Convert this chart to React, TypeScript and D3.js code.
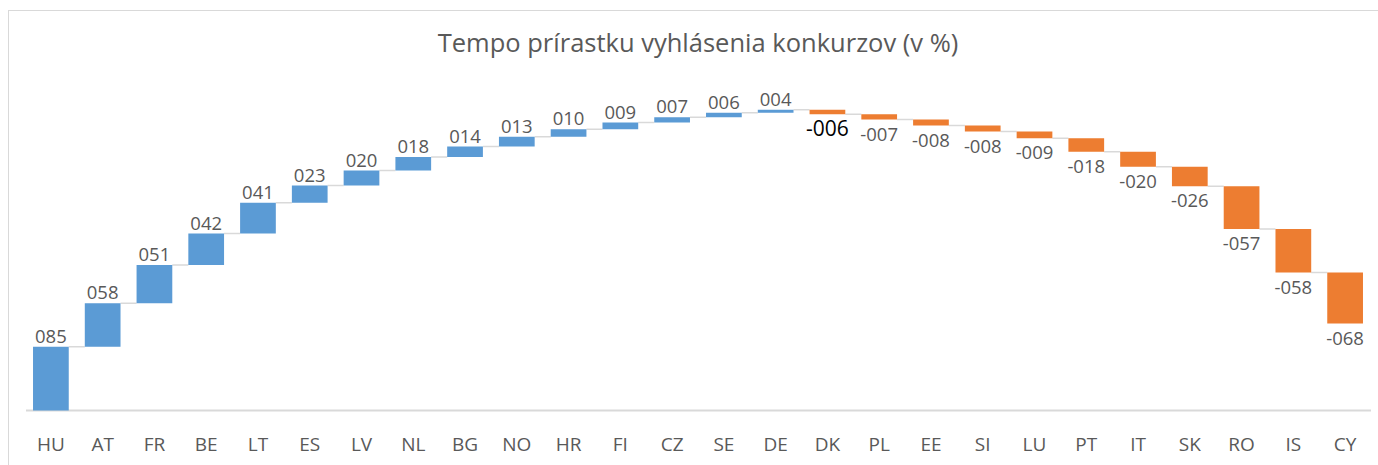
import React from "react";
import * as d3 from "d3";

const categories = ["HU","AT","FR","BE","LT","ES","LV","NL","BG","NO","HR","FI","CZ","SE","DE","DK","PL","EE","SI","LU","PT","IT","SK","RO","IS","CY"];
const values = [85,58,51,42,41,23,20,18,14,13,10,9,7,6,4,-6,-7,-8,-8,-9,-18,-20,-26,-57,-58,-68];
const title = "Tempo prírastku vyhlásenia konkurzov (v %)";

const W = 1378;
const H = 465;
const FONT = "'Open Sans', 'Liberation Sans', sans-serif";
const fmt = (v: number) => (v < 0 ? "-" : "") + String(Math.abs(Math.round(v))).padStart(3, "0");

export default function App() {
  const x = d3.scaleBand<string>().domain(categories).range([25, 1371]).paddingInner(0.31).paddingOuter(0.155);
  const y = d3.scaleLinear().domain([0, 450]).range([410.5, 73]);

  let cum = 0;
  const items = values.map((v, i) => {
    const start = cum;
    cum += v;
    return { cat: categories[i], v, start, end: cum };
  });
  const bw = x.bandwidth();

  return (
    <svg width={W} height={H} style={{ position: "absolute", left: 0, top: 0, background: "#fff" }}>
      <rect x={8.5} y={10.5} width={W + 10} height={H + 10} fill="#fff" stroke="#d9d9d9" strokeWidth={1} />
      <text x={698} y={52} textAnchor="middle" fontFamily={FONT} fontSize={25.5} fill="#595959">{title}</text>
      {/* connectors */}
      {items.slice(0, -1).map((d, i) => (
        <line key={"c" + i} x1={(x(d.cat) as number) + bw} x2={x(items[i + 1].cat) as number}
          y1={y(d.end)} y2={y(d.end)} stroke="#d9d9d9" strokeWidth={1.5} />
      ))}
      {/* baseline */}
      <line x1={26} x2={1371} y1={y(0)} y2={y(0)} stroke="#d9d9d9" strokeWidth={2} />
      {items.map((d, i) => {
        const top = y(Math.max(d.start, d.end));
        const bot = y(Math.min(d.start, d.end));
        const cx = (x(d.cat) as number) + bw / 2;
        const pos = d.v >= 0;
        const special = d.cat === "DK";
        return (
          <g key={d.cat}>
            <rect x={x(d.cat)} y={top} width={bw} height={Math.max(0, bot - top)} fill={pos ? "#5B9BD5" : "#ED7D31"} />
            <text x={cx} y={pos ? top - 4 : bot + (special ? 22 : 21)} textAnchor="middle" fontFamily={FONT}
              fontSize={special ? 21 : 18.5} fill={special ? "#000" : "#595959"}>{fmt(d.v)}</text>
            <text x={cx} y={451} textAnchor="middle" fontFamily={FONT} fontSize={19} fill="#595959">{d.cat}</text>
          </g>
        );
      })}
    </svg>
  );
}
